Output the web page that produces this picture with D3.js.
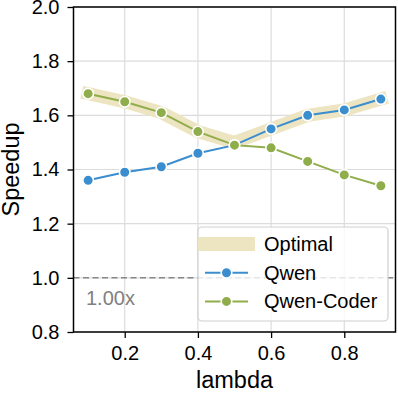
<!DOCTYPE html>
<html>
<head>
<meta charset="utf-8">
<script src="https://cdn.jsdelivr.net/npm/d3@7"></script>
<style>
  body { margin: 0; background: #fff; }
  svg { display: block; font-family: "Liberation Sans", Arial, sans-serif; }
</style>
</head>
<body>
<svg id="chart" width="398" height="395"></svg>
<script>
// data
const lambdas = [0.1, 0.2, 0.3, 0.4, 0.5, 0.6, 0.7, 0.8, 0.9];
const qwen = [1.36, 1.39, 1.41, 1.46, 1.49, 1.55, 1.60, 1.62, 1.66];
const qwenCoder = [1.68, 1.65, 1.61, 1.54, 1.49, 1.48, 1.43, 1.38, 1.34];
const optimal = [1.68, 1.65, 1.61, 1.54, 1.50, 1.55, 1.60, 1.62, 1.66];
const xTicks = [0.2, 0.4, 0.6, 0.8];
const yTicks = [0.8, 1.0, 1.2, 1.4, 1.6, 1.8, 2.0];

const blue = "#3a8ecf";
const green = "#8fad4b";
const tan = "#ede4c1";

const svg = d3.select("#chart");
const mLeft = 73.5, mRight = 395.5, mTop = 7, mBottom = 332;

const x = d3.scaleLinear().domain([0.06, 0.94]).range([mLeft, mRight]);
const y = d3.scaleLinear().domain([0.8, 2.0]).range([mBottom, mTop]);

// grid
const grid = svg.append("g").attr("stroke", "#dcdcdc").attr("stroke-width", 1.2);
grid.selectAll(".gx").data(xTicks).join("line")
  .attr("x1", (d) => x(d)).attr("x2", (d) => x(d))
  .attr("y1", mTop).attr("y2", mBottom);
grid.selectAll(".gy").data(yTicks).join("line")
  .attr("x1", mLeft).attr("x2", mRight)
  .attr("y1", (d) => y(d)).attr("y2", (d) => y(d));

// baseline 1.00x
svg.append("line")
  .attr("x1", mLeft).attr("x2", mRight)
  .attr("y1", y(1.0)).attr("y2", y(1.0))
  .attr("stroke", "#888").attr("stroke-width", 1.5)
  .attr("stroke-dasharray", "6,3.5");
svg.append("text")
  .attr("x", 86).attr("y", y(1.0) + 27)
  .attr("font-size", 20).attr("fill", "#808080")
  .text("1.00x");

const line = d3.line().x((d) => x(d[0])).y((d) => y(d[1]));

// optimal band
svg.append("path")
  .datum(d3.zip(lambdas, optimal))
  .attr("d", line)
  .attr("fill", "none")
  .attr("stroke", tan)
  .attr("stroke-width", 13)
  .attr("stroke-linejoin", "miter")
  .attr("stroke-linecap", "square");

function series(vals, color) {
  const pts = d3.zip(lambdas, vals);
  svg.append("path")
    .datum(pts)
    .attr("d", line)
    .attr("fill", "none")
    .attr("stroke", color)
    .attr("stroke-width", 2);
  svg.append("g").selectAll("circle").data(pts).join("circle")
    .attr("cx", (d) => x(d[0])).attr("cy", (d) => y(d[1]))
    .attr("r", 5.3)
    .attr("fill", color)
    .attr("stroke", "#fff").attr("stroke-width", 1.6);
}
series(qwen, blue);
series(qwenCoder, green);

// axes
const xAxis = svg.append("g")
  .attr("transform", `translate(0,${mBottom})`)
  .call(d3.axisBottom(x).tickValues(xTicks).tickSize(6).tickPadding(8).tickFormat(d3.format(".1f")));
const yAxis = svg.append("g")
  .attr("transform", `translate(${mLeft},0)`)
  .call(d3.axisLeft(y).tickValues(yTicks).tickSize(6).tickPadding(8).tickFormat(d3.format(".1f")));
[xAxis, yAxis].forEach((a) => {
  a.select(".domain").remove();
  a.selectAll("line").attr("stroke", "#000").attr("stroke-width", 1.3);
  a.selectAll("text").attr("font-size", 20).attr("fill", "#000")
    .attr("font-family", "Liberation Sans, Arial, sans-serif");
});

// frame
svg.append("rect")
  .attr("x", mLeft).attr("y", mTop)
  .attr("width", mRight - mLeft).attr("height", mBottom - mTop)
  .attr("fill", "none").attr("stroke", "#000").attr("stroke-width", 1.5);

// axis labels
svg.append("text")
  .attr("x", (mLeft + mRight) / 2).attr("y", 388)
  .attr("text-anchor", "middle").attr("font-size", 23.5)
  .text("lambda");
svg.append("text")
  .attr("transform", `translate(19,${(mTop + mBottom) / 2}) rotate(-90)`)
  .attr("text-anchor", "middle").attr("font-size", 23.5)
  .text("Speedup");

// legend
const lg = svg.append("g");
lg.append("rect")
  .attr("x", 198).attr("y", 227).attr("width", 190).attr("height", 94)
  .attr("rx", 4)
  .attr("fill", "#fff").attr("fill-opacity", 0.8)
  .attr("stroke", "#d0d0d0").attr("stroke-width", 1.2);
const entries = [
  { label: "Optimal", color: tan, kind: "band" },
  { label: "Qwen", color: blue, kind: "line" },
  { label: "Qwen-Coder", color: green, kind: "line" },
];
entries.forEach((e, i) => {
  const cy = 244 + i * 28.7;
  if (e.kind === "band") {
    lg.append("line")
      .attr("x1", 205).attr("x2", 248).attr("y1", cy).attr("y2", cy)
      .attr("stroke", e.color).attr("stroke-width", 14)
      .attr("stroke-linecap", "square");
  } else {
    lg.append("line")
      .attr("x1", 205).attr("x2", 248).attr("y1", cy).attr("y2", cy)
      .attr("stroke", e.color).attr("stroke-width", 2);
    lg.append("circle")
      .attr("cx", 226.5).attr("cy", cy).attr("r", 5.3)
      .attr("fill", e.color).attr("stroke", "#fff").attr("stroke-width", 1.6);
  }
  lg.append("text")
    .attr("x", 264).attr("y", cy + 7)
    .attr("font-size", 20)
    .text(e.label);
});
</script>
</body>
</html>
